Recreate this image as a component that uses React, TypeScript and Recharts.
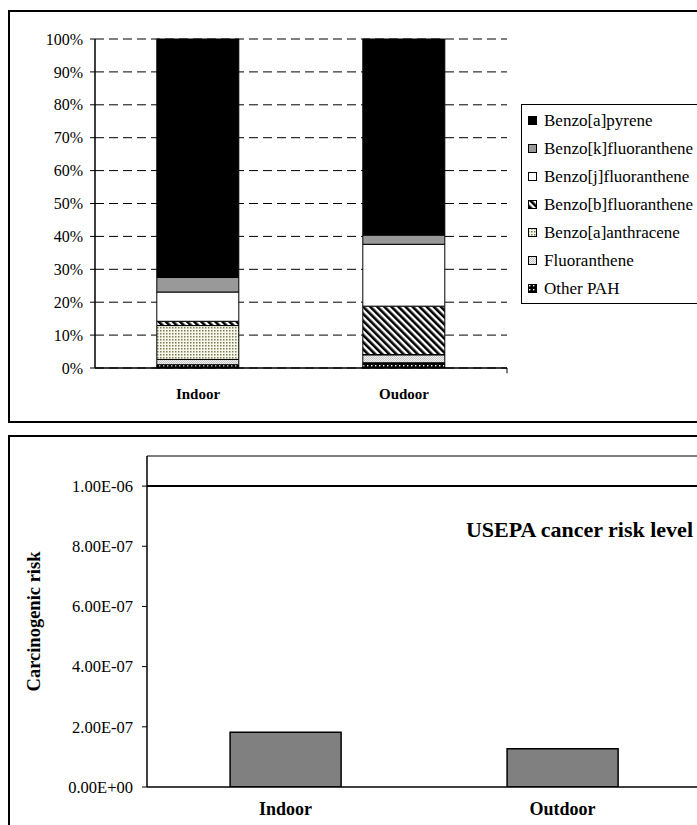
import React from 'react';
import { BarChart, Bar, XAxis, YAxis, CartesianGrid, Legend, ReferenceLine } from 'recharts';

// composition of carcinogenic PAH (percent of total), stacked bottom -> top
const SITES = ['Indoor', 'Oudoor'];
const OTHER_PAH = [1.0, 1.6];
const FLUORANTHENE = [1.6, 2.4];
const BAA = [10.3, 0.1];
const BBF = [1.3, 14.7];
const BJF = [8.9, 18.8];
const BKF = [4.4, 2.8];
const BAP = [72.5, 59.6];
const PCT_TICKS = [0, 10, 20, 30, 40, 50, 60, 70, 80, 90, 100];

// carcinogenic risk
const RISK_SITES = ['Indoor', 'Outdoor'];
const RISK = [1.82e-7, 1.27e-7];
const USEPA_LEVEL = 1e-6;
const RISK_MAX = 1.1e-6;
const RISK_TICKS = [0, 2e-7, 4e-7, 6e-7, 8e-7, 1e-6];

const SERIES = [
  { key: 'other', name: 'Other PAH', values: OTHER_PAH, fill: 'url(#pOther)' },
  { key: 'flu', name: 'Fluoranthene', values: FLUORANTHENE, fill: 'url(#pFlu)' },
  { key: 'baa', name: 'Benzo[a]anthracene', values: BAA, fill: 'url(#pBaa)' },
  { key: 'bbf', name: 'Benzo[b]fluoranthene', values: BBF, fill: 'url(#pBbf)' },
  { key: 'bjf', name: 'Benzo[j]fluoranthene', values: BJF, fill: '#ffffff' },
  { key: 'bkf', name: 'Benzo[k]fluoranthene', values: BKF, fill: '#999999' },
  { key: 'bap', name: 'Benzo[a]pyrene', values: BAP, fill: '#000000' },
];

const pahData = SITES.map((site, i) => {
  const row: Record<string, any> = { site };
  SERIES.forEach(s => { row[s.key] = s.values[i]; });
  return row;
});

const riskData = RISK_SITES.map((site, i) => ({ site, risk: RISK[i] }));

const FONT = '"Liberation Serif", "Times New Roman", serif';

const sci = (v: number) => {
  if (v === 0) return '0.00E+00';
  const [m, e] = v.toExponential(2).split('e');
  const n = parseInt(e, 10);
  return `${m}E${n < 0 ? '-' : '+'}${String(Math.abs(n)).padStart(2, '0')}`;
};

const PahLegend = () => (
  <div style={{
    border: '1.5px solid #000', background: '#fff', padding: '2px 0 0 6px',
    width: 200, boxSizing: 'border-box', fontFamily: FONT, fontSize: 17,
  }}>
    {[...SERIES].reverse().map(s => (
      <div key={s.key} style={{ height: 28, display: 'flex', alignItems: 'center', whiteSpace: 'nowrap' }}>
        <svg width={10} height={10} style={{ marginRight: 6 }}>
          <rect x={0.5} y={0.5} width={8} height={8} fill={s.fill} stroke="#000" strokeWidth={1} />
        </svg>
        <span>{s.name}</span>
      </div>
    ))}
  </div>
);

const PahChart = () => (
  <BarChart width={698} height={409} data={pahData}
    margin={{ top: 27, right: 201, bottom: 23, left: 0 }} barCategoryGap="30%">
    <defs>
      <pattern id="pBbf" width={5} height={5} patternUnits="userSpaceOnUse" patternTransform="rotate(-45)">
        <rect width={5} height={5} fill="#fff" />
        <rect width={2.6} height={5} fill="#000" />
      </pattern>
      <pattern id="pBaa" width={3} height={3} patternUnits="userSpaceOnUse">
        <rect width={3} height={3} fill="#f6f6ea" />
        <rect width={1.5} height={1.5} fill="#7d7d55" />
      </pattern>
      <pattern id="pFlu" width={2} height={2} patternUnits="userSpaceOnUse">
        <rect width={2} height={2} fill="#f0f0f0" />
        <rect width={1} height={1} fill="#c8c8c8" />
        <rect x={1} y={1} width={1} height={1} fill="#c8c8c8" />
      </pattern>
      <pattern id="pOther" width={4} height={4} patternUnits="userSpaceOnUse">
        <rect width={4} height={4} fill="#000" />
        <rect x={1} y={1} width={1.4} height={1.4} fill="#fff" />
      </pattern>
    </defs>
    <CartesianGrid vertical={false} stroke="#000" strokeDasharray="9 5" />
    <XAxis dataKey="site" tickLine={false} tickSize={0} tickMargin={20} height={30}
      axisLine={{ stroke: '#000', strokeWidth: 1.5 }}
      tick={{ fill: '#000', fontSize: 15, fontWeight: 'bold', fontFamily: FONT }} />
    <XAxis xAxisId="edge" type="number" domain={[0, 2]} allowDataOverflow hide />
    <YAxis domain={[0, 100]} ticks={PCT_TICKS} width={85} tickSize={5} tickMargin={7}
      tickFormatter={(v: number) => `${v}%`} interval={0}
      axisLine={{ stroke: '#000', strokeWidth: 1.5 }} tickLine={{ stroke: '#000' }}
      tick={{ fill: '#000', fontSize: 16, fontFamily: FONT }} />
    <ReferenceLine xAxisId="edge" x={2} stroke="#000" strokeDasharray="9 5" />
    <ReferenceLine xAxisId="edge" segment={[{ x: 1, y: 0 }, { x: 1, y: -1.6 }]} ifOverflow="visible" stroke="#000" />
    <Legend layout="vertical" align="center" verticalAlign="middle"
      wrapperStyle={{ left: 511, top: 92, width: 200 }} content={() => <PahLegend />} />
    {SERIES.map(s => (
      <Bar key={s.key} dataKey={s.key} name={s.name} stackId="pah" fill={s.fill}
        stroke="#000" strokeWidth={1} isAnimationActive={false} />
    ))}
  </BarChart>
);

const RiskChart = () => (
  <BarChart width={720} height={410} data={riskData}
    margin={{ top: 19, right: 29, bottom: 20, left: 0 }} barCategoryGap="30%">
    <XAxis dataKey="site" tickLine={false} tickSize={0} tickMargin={15} height={40}
      axisLine={{ stroke: '#000', strokeWidth: 1.5 }}
      tick={{ fill: '#000', fontSize: 18, fontWeight: 'bold', fontFamily: FONT }} />
    <XAxis xAxisId="edge" type="number" domain={[0, 2]} allowDataOverflow hide />
    <YAxis domain={[0, RISK_MAX]} ticks={RISK_TICKS} width={137} tickSize={5} tickMargin={9}
      allowDataOverflow interval={0} tickFormatter={sci}
      axisLine={{ stroke: '#000', strokeWidth: 1.5 }} tickLine={{ stroke: '#000' }}
      tick={{ fill: '#000', fontSize: 16.5, fontFamily: FONT }}
      label={{
        content: (props: any) => {
          const vb = props.viewBox || {};
          const cx = vb.x + 24;
          const cy = vb.y + vb.height / 2;
          return (
            <text x={cx} y={cy} transform={`rotate(-90, ${cx}, ${cy})`} textAnchor="middle"
              dominantBaseline="central" fontFamily={FONT} fontWeight="bold" fontSize={18.5} fill="#000">
              Carcinogenic risk
            </text>
          );
        },
      }} />
    <ReferenceLine y={RISK_MAX} stroke="#000" strokeWidth={1} />
    <ReferenceLine xAxisId="edge" segment={[{ x: 1, y: 0 }, { x: 1, y: -1.7e-8 }]} ifOverflow="visible" stroke="#000" />
    <ReferenceLine y={USEPA_LEVEL} stroke="#000" strokeWidth={2}
      label={{
        content: (props: any) => {
          const vb = props.viewBox || {};
          return (
            <text x={vb.x + vb.width - 8} y={vb.y + 43} textAnchor="end" dominantBaseline="central"
              fontFamily={FONT} fontWeight="bold" fontSize={22} fill="#000">
              USEPA cancer risk level
            </text>
          );
        },
      }} />
    <Bar dataKey="risk" fill="#808080" stroke="#000" strokeWidth={1.5} isAnimationActive={false} />
  </BarChart>
);

export default function App() {
  return (
    <div style={{ position: 'fixed', inset: 0, overflow: 'hidden', background: '#fff' }}>
      <div style={{
        position: 'absolute', left: 8, top: 10, width: 702, height: 413,
        border: '2px solid #000', boxSizing: 'border-box',
      }}>
        <PahChart />
      </div>
      <div style={{
        position: 'absolute', left: 8, top: 435, width: 724, height: 414,
        border: '2px solid #000', boxSizing: 'border-box',
      }}>
        <RiskChart />
      </div>
    </div>
  );
}
